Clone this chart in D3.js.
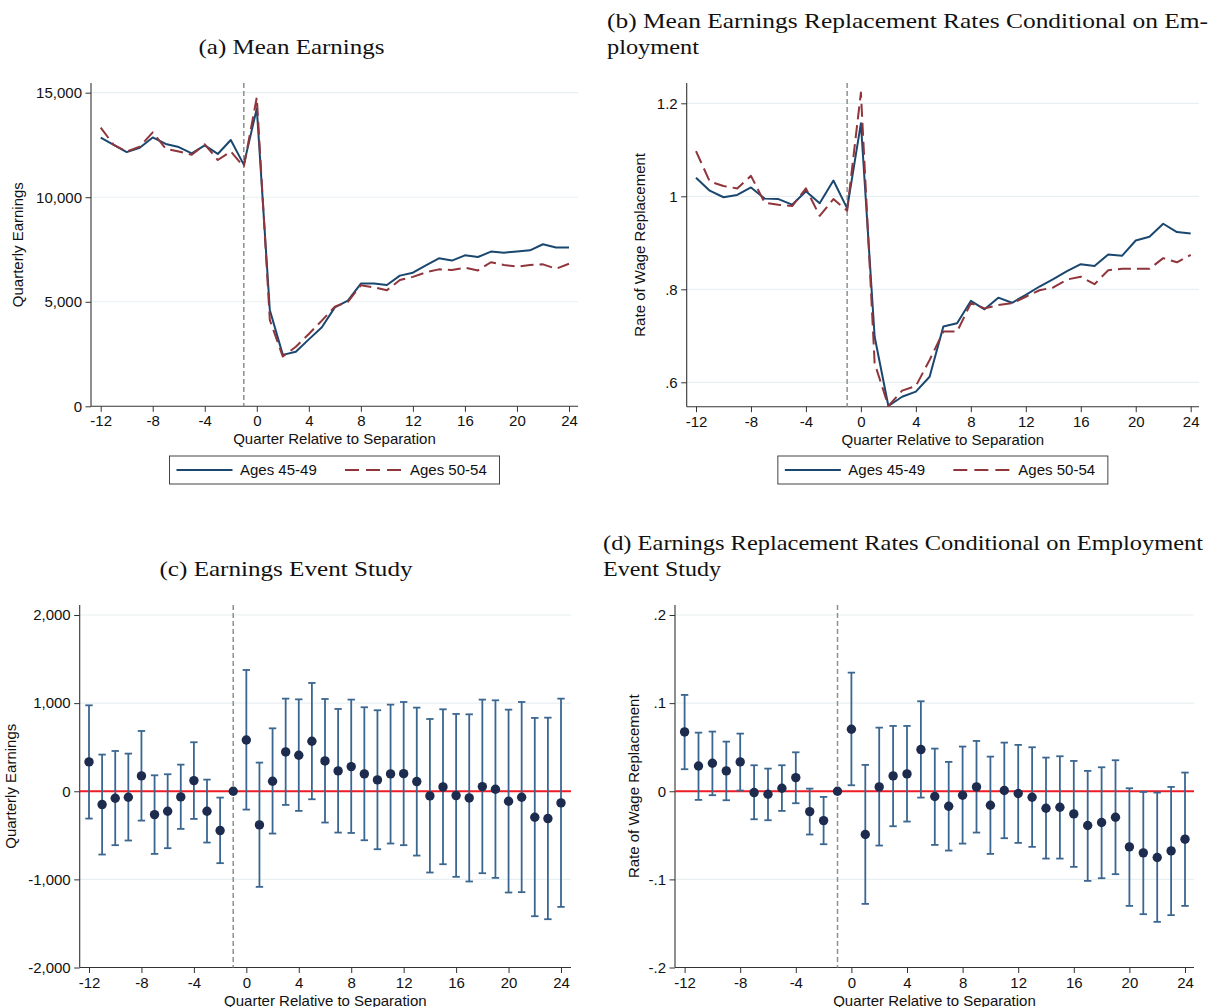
<!DOCTYPE html>
<html><head><meta charset="utf-8">
<script src="https://cdn.jsdelivr.net/npm/d3@7"></script>
<style>body{margin:0;background:#fff} svg{display:block}</style>
</head><body>
<svg id="chart" width="1209" height="1007"></svg>
<script>
// ---------------- DATA ----------------
const quarters = [-12,-11,-10,-9,-8,-7,-6,-5,-4,-3,-2,-1,0,1,2,3,4,5,6,7,8,9,10,11,12,13,14,15,16,17,18,19,20,21,22,23,24];
const seriesNames = ["Ages 45-49", "Ages 50-54"];

// (a) Mean earnings
const earnAges4549 = [12850,12500,12160,12370,12860,12550,12400,12100,12480,12070,12740,11560,14250,4610,2460,2610,3200,3780,4730,5050,5870,5870,5800,6250,6390,6740,7080,6970,7220,7140,7400,7350,7410,7460,7750,7600,7600];
const earnAges5054 = [13330,12500,12180,12420,13100,12320,12190,12030,12530,11780,12190,11460,14780,4130,2380,2850,3460,4100,4770,5000,5790,5690,5550,6040,6190,6410,6550,6520,6630,6500,6890,6760,6680,6760,6790,6580,6820];

// (b) Replacement rates
const replAges4549 = [1.040,1.012,0.998,1.003,1.019,0.995,0.994,0.982,1.011,0.985,1.034,0.974,1.157,0.698,0.549,0.569,0.580,0.612,0.720,0.727,0.775,0.757,0.782,0.771,0.788,0.806,0.822,0.839,0.854,0.850,0.875,0.872,0.905,0.913,0.941,0.923,0.920];
const replAges5054 = [1.097,1.032,1.022,1.017,1.044,0.986,0.982,0.979,1.017,0.958,0.994,0.969,1.223,0.641,0.549,0.582,0.592,0.648,0.709,0.709,0.770,0.759,0.766,0.770,0.784,0.798,0.804,0.821,0.827,0.811,0.841,0.844,0.844,0.844,0.867,0.858,0.874];

// (c) Earnings event study
const esEarnCoef = [333,-151,-79,-68,174,-265,-227,-64,121,-227,-446,0,582,-382,113,446,408,567,344,231,280,197,129,197,200,110,-53,49,-49,-76,53,23,-113,-68,-295,-310,-132];
const esEarnLo   = [-310,-718,-612,-559,-333,-711,-646,-427,-314,-582,-816,null,-208,-1085,-480,-155,-223,-91,-355,-469,-473,-556,-658,-593,-612,-730,-922,-828,-971,-1024,-930,-983,-1149,-1145,-1418,-1452,-1312];
const esEarnHi   = [975,416,457,427,684,181,193,302,556,132,-72,null,1376,325,714,1051,1043,1229,1047,934,1040,953,919,983,1013,949,820,930,877,873,1040,1032,926,1013,832,835,1051];

// (d) Replacement rate event study
const esReplCoef = [.0673,.0287,.0318,.0231,.0333,-.0015,-.0034,.0034,.0155,-.0231,-.0333,0,.0703,-.0491,.0049,.0174,.0197,.0473,-.0060,-.0170,-.0045,.0049,-.0159,.0008,-.0026,-.0068,-.0193,-.0181,-.0257,-.0389,-.0355,-.0295,-.0631,-.0699,-.0752,-.0677,-.0544];
const esReplLo   = [.0250,-.0098,-.0045,-.0102,.0008,-.0318,-.0329,-.0223,-.0136,-.0491,-.0601,null,.0068,-.1278,-.0616,-.0397,-.0344,-.0072,-.0609,-.0673,-.0594,-.0469,-.0711,-.0533,-.0586,-.0631,-.0764,-.0764,-.0858,-.1017,-.0987,-.0941,-.1301,-.1395,-.1482,-.1406,-.1301];
const esReplHi   = [.1093,.0665,.0677,.0563,.0654,.0295,.0257,.0295,.0442,.0030,-.0064,null,.1346,.0299,.0722,.0741,.0741,.1021,.0484,.0333,.0507,.0571,.0393,.0552,.0526,.0499,.0382,.0397,.0344,.0231,.0272,.0352,.0034,-.0008,-.0015,.0049,.0212];

// ticks
const xTickValues = [-12,-8,-4,0,4,8,12,16,20,24];
const xTickLabels = ["-12","-8","-4","0","4","8","12","16","20","24"];
const separationQuarter = -1;
const earnTicks = [0,5000,10000,15000];
const earnTickLabels = ["0","5,000","10,000","15,000"];
const replTicks = [0.6,0.8,1,1.2];
const replTickLabels = [".6",".8","1","1.2"];
const esEarnTicks = [-2000,-1000,0,1000,2000];
const esEarnTickLabels = ["-2,000","-1,000","0","1,000","2,000"];
const esReplTicks = [-0.2,-0.1,0,0.1,0.2];
const esReplTickLabels = ["-.2","-.1","0",".1",".2"];

// ---------------- STYLE ----------------
const SANS = "'Liberation Sans', Arial, Helvetica, sans-serif";
const SERIF = "'Liberation Serif', 'Times New Roman', serif";
const BLUE = "#1a476f", RED = "#90353b";
const DOT = "#1c2b4e", BAR = "#3b6690", ZERO = "#ee1c25";
const GRID = "#e9f0f2", AXIS = "#333333";

const svg = d3.select("#chart");

function drawPanel(p) {
  const g = svg.append("g");
  const x = d3.scaleLinear().domain([quarters[0], quarters[quarters.length-1]]).range([p.x0, p.x1]);
  const y = d3.scaleLinear().domain([p.yTicks[0], p.yTicks[p.yTicks.length-1]]).range([p.y0, p.y1]);

  // gridlines
  g.selectAll("line.grid").data(p.yTicks.filter(v => y(v) < p.bottom - 1)).enter().append("line")
    .attr("x1", p.left).attr("x2", p.right).attr("y1", d => y(d)).attr("y2", d => y(d))
    .attr("stroke", GRID).attr("stroke-width", 1.2);

  // y axis
  const yAxis = d3.axisLeft(y).tickValues(p.yTicks)
    .tickFormat((d,i) => p.yLabels[i]).tickSize(5.5).tickPadding(3.5).tickSizeOuter(0);
  const ya = g.append("g").attr("transform", `translate(${p.left},0)`).call(yAxis);
  ya.select(".domain").remove();
  ya.selectAll(".tick line").attr("stroke", AXIS);
  ya.selectAll(".tick text").attr("font-family", SANS).attr("font-size", 15).attr("fill", "#111");
  g.append("line").attr("x1", p.left).attr("x2", p.left).attr("y1", p.top).attr("y2", p.bottom)
    .attr("stroke", AXIS).attr("stroke-width", 1.1);

  // x axis
  const xAxis = d3.axisBottom(x).tickValues(xTickValues).tickFormat((d,i) => xTickLabels[i])
    .tickSize(5.5).tickPadding(4).tickSizeOuter(0);
  const xa = g.append("g").attr("transform", `translate(0,${p.bottom})`).call(xAxis);
  xa.select(".domain").remove();
  xa.selectAll(".tick line").attr("stroke", AXIS);
  xa.selectAll(".tick text").attr("font-family", SANS).attr("font-size", 15).attr("fill", "#111");
  g.append("line").attr("x1", p.left).attr("x2", p.right).attr("y1", p.bottom).attr("y2", p.bottom)
    .attr("stroke", AXIS).attr("stroke-width", 1.1);

  // axis titles
  g.append("text").attr("x", (p.left + p.right) / 2).attr("y", p.bottom + 38)
    .attr("text-anchor", "middle").attr("font-family", SANS).attr("font-size", 15).attr("fill", "#111")
    .text("Quarter Relative to Separation");
  g.append("text").attr("transform", `translate(${p.yTitleX},${(p.top + p.bottom) / 2}) rotate(-90)`)
    .attr("text-anchor", "middle").attr("font-family", SANS).attr("font-size", 15).attr("fill", "#111")
    .text(p.yTitle);

  // zero line for event studies
  if (p.zeroLine) {
    g.append("line").attr("x1", p.left).attr("x2", p.right).attr("y1", y(0)).attr("y2", y(0))
      .attr("stroke", ZERO).attr("stroke-width", 1.8);
  }
  // separation dashed line
  g.append("line").attr("x1", x(separationQuarter)).attr("x2", x(separationQuarter))
    .attr("y1", p.top).attr("y2", p.bottom)
    .attr("stroke", "#8f8f8f").attr("stroke-width", 1.5).attr("stroke-dasharray", "5,3");

  // series lines
  if (p.lines) {
    p.lines.forEach(s => {
      const line = d3.line().x((d,i) => x(quarters[i])).y(d => y(d));
      g.append("path").datum(s.values).attr("d", line).attr("fill", "none")
        .attr("stroke", s.color).attr("stroke-width", 2).attr("stroke-linejoin", "round")
        .attr("stroke-dasharray", s.dash || null);
    });
    // legend
    const lw = 330, lh = 28, lx = (p.left + p.right) / 2 - lw / 2, ly = p.legendY;
    const lg = g.append("g");
    lg.append("rect").attr("x", lx).attr("y", ly).attr("width", lw).attr("height", lh)
      .attr("fill", "#fff").attr("stroke", "#444").attr("stroke-width", 1);
    const items = [{dx: 7, tx: 70.5}, {dx: 175.5, tx: 240.5}];
    p.lines.forEach((s, i) => {
      lg.append("line").attr("x1", lx + items[i].dx).attr("x2", lx + items[i].dx + 56)
        .attr("y1", ly + lh / 2).attr("y2", ly + lh / 2)
        .attr("stroke", s.color).attr("stroke-width", 2).attr("stroke-dasharray", s.dash ? "14,7" : null);
      lg.append("text").attr("x", lx + items[i].tx).attr("y", ly + lh / 2 + 5.3)
        .attr("font-family", SANS).attr("font-size", 15).attr("fill", "#111").text(seriesNames[i]);
    });
  }

  // event-study points and CIs
  if (p.es) {
    const rows = quarters.map((q, i) => ({q, c: p.es.coef[i], lo: p.es.lo[i], hi: p.es.hi[i]}));
    const withCI = rows.filter(r => r.lo !== null);
    g.selectAll("line.ci").data(withCI).enter().append("line")
      .attr("x1", d => x(d.q)).attr("x2", d => x(d.q)).attr("y1", d => y(d.lo)).attr("y2", d => y(d.hi))
      .attr("stroke", BAR).attr("stroke-width", 1.8);
    ["lo", "hi"].forEach(k => {
      g.selectAll("line.cap" + k).data(withCI).enter().append("line")
        .attr("x1", d => x(d.q) - 3.7).attr("x2", d => x(d.q) + 3.7)
        .attr("y1", d => y(d[k])).attr("y2", d => y(d[k]))
        .attr("stroke", BAR).attr("stroke-width", 1.8);
    });
    g.selectAll("circle.pt").data(rows).enter().append("circle")
      .attr("cx", d => x(d.q)).attr("cy", d => y(d.c)).attr("r", 4.7).attr("fill", DOT);
  }

  // titles
  p.titles.forEach(t => {
    const tx = svg.append("text").attr("x", t.x).attr("y", t.y)
      .attr("font-family", SERIF).attr("font-size", 21).attr("fill", "#111")
      .attr("text-anchor", t.anchor || "start").text(t.text);
    if (t.w) tx.attr("textLength", t.w).attr("lengthAdjust", "spacingAndGlyphs");
  });
}

drawPanel({
  left: 91, right: 578, top: 83, bottom: 406.3,
  x0: 100.7, x1: 569, y0: 406.3, y1: 92.7,
  yTicks: earnTicks, yLabels: earnTickLabels, yTitle: "Quarterly Earnings", yTitleX: 23,
  lines: [{values: earnAges4549, color: BLUE}, {values: earnAges5054, color: RED, dash: "13,6"}],
  legendY: 456,
  titles: [{text: "(a) Mean Earnings", x: 291.5, y: 53.5, anchor: "middle", w: 186}]
});

drawPanel({
  left: 686.7, right: 1199, top: 83, bottom: 406.7,
  x0: 696, x1: 1190.7, y0: 382.3, y1: 103.3,
  yTicks: replTicks, yLabels: replTickLabels, yTitle: "Rate of Wage Replacement", yTitleX: 645,
  lines: [{values: replAges4549, color: BLUE}, {values: replAges5054, color: RED, dash: "13,6"}],
  legendY: 456,
  titles: [{text: "(b) Mean Earnings Replacement Rates Conditional on Em-", x: 607, y: 28, w: 601},
           {text: "ployment", x: 607, y: 53.5, w: 92}]
});

drawPanel({
  left: 79.7, right: 571, top: 605, bottom: 967.5,
  x0: 89, x1: 561, y0: 967.5, y1: 615,
  yTicks: esEarnTicks, yLabels: esEarnTickLabels, yTitle: "Quarterly Earnings", yTitleX: 16,
  zeroLine: true, es: {coef: esEarnCoef, lo: esEarnLo, hi: esEarnHi},
  titles: [{text: "(c) Earnings Event Study", x: 286, y: 575.5, anchor: "middle", w: 253}]
});

drawPanel({
  left: 675, right: 1194, top: 605, bottom: 967.5,
  x0: 684.6, x1: 1185, y0: 967.5, y1: 615,
  yTicks: esReplTicks, yLabels: esReplTickLabels, yTitle: "Rate of Wage Replacement", yTitleX: 639,
  zeroLine: true, es: {coef: esReplCoef, lo: esReplLo, hi: esReplHi},
  titles: [{text: "(d) Earnings Replacement Rates Conditional on Employment", x: 603, y: 550, w: 600},
           {text: "Event Study", x: 603, y: 575.5, w: 118}]
});
</script>
</body></html>
